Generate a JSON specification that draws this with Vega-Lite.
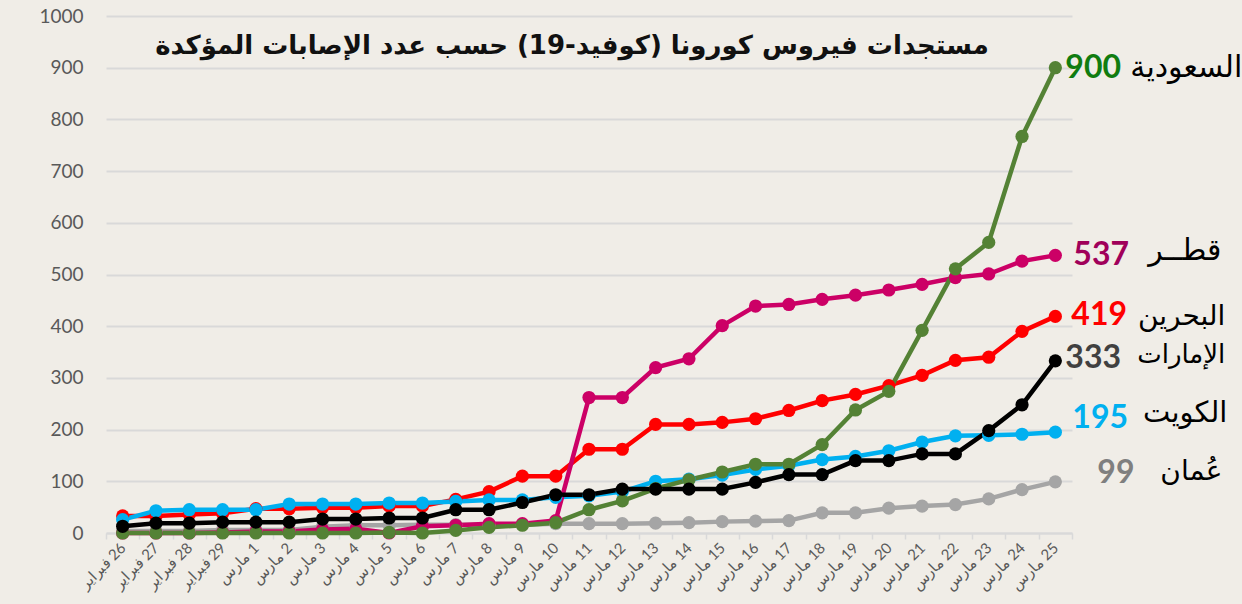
{
  "$schema": "https://vega.github.io/schema/vega-lite/v6.json",
  "autosize": {"type": "none"},
  "width": 966,
  "height": 517,
  "padding": {"left": 106, "top": 16, "right": 170, "bottom": 71},
  "background": "#F0EDE7",
  "config": {"view": {"stroke": null}},
  "title": {
    "text": "مستجدات فيروس كورونا (كوفيد-19) حسب عدد الإصابات المؤكدة",
    "frame": "group", "anchor": "middle", "orient": "top", "offset": 0, "dy": 65, "dx": -17,
    "baseline": "middle", "font": "DejaVu Sans", "fontSize": 26, "fontWeight": "bold", "color": "#111111"
  },
  "datasets": {
    "ends": [
      {"country": "السعودية", "name": "السعودية", "date": "\u200f25 مارس", "value": 900},
      {"country": "قطر", "name": "قطــر", "date": "\u200f25 مارس", "value": 537},
      {"country": "البحرين", "name": "البحرين", "date": "\u200f25 مارس", "value": 419},
      {"country": "الإمارات", "name": "الإمارات", "date": "\u200f25 مارس", "value": 333},
      {"country": "الكويت", "name": "الكويت", "date": "\u200f25 مارس", "value": 195},
      {"country": "عمان", "name": "عُمان", "date": "\u200f25 مارس", "value": 99}
    ],
    "series": [
      {"country": "عمان", "date": "\u200f26 فبراير", "value": 4},
      {"country": "عمان", "date": "\u200f27 فبراير", "value": 4},
      {"country": "عمان", "date": "\u200f28 فبراير", "value": 4},
      {"country": "عمان", "date": "\u200f29 فبراير", "value": 6},
      {"country": "عمان", "date": "\u200f1 مارس", "value": 6},
      {"country": "عمان", "date": "\u200f2 مارس", "value": 6},
      {"country": "عمان", "date": "\u200f3 مارس", "value": 12},
      {"country": "عمان", "date": "\u200f4 مارس", "value": 15},
      {"country": "عمان", "date": "\u200f5 مارس", "value": 15},
      {"country": "عمان", "date": "\u200f6 مارس", "value": 16},
      {"country": "عمان", "date": "\u200f7 مارس", "value": 16},
      {"country": "عمان", "date": "\u200f8 مارس", "value": 16},
      {"country": "عمان", "date": "\u200f9 مارس", "value": 16},
      {"country": "عمان", "date": "\u200f10 مارس", "value": 18},
      {"country": "عمان", "date": "\u200f11 مارس", "value": 18},
      {"country": "عمان", "date": "\u200f12 مارس", "value": 18},
      {"country": "عمان", "date": "\u200f13 مارس", "value": 19},
      {"country": "عمان", "date": "\u200f14 مارس", "value": 20},
      {"country": "عمان", "date": "\u200f15 مارس", "value": 22},
      {"country": "عمان", "date": "\u200f16 مارس", "value": 23},
      {"country": "عمان", "date": "\u200f17 مارس", "value": 24},
      {"country": "عمان", "date": "\u200f18 مارس", "value": 39},
      {"country": "عمان", "date": "\u200f19 مارس", "value": 39},
      {"country": "عمان", "date": "\u200f20 مارس", "value": 48},
      {"country": "عمان", "date": "\u200f21 مارس", "value": 52},
      {"country": "عمان", "date": "\u200f22 مارس", "value": 55},
      {"country": "عمان", "date": "\u200f23 مارس", "value": 66},
      {"country": "عمان", "date": "\u200f24 مارس", "value": 84},
      {"country": "عمان", "date": "\u200f25 مارس", "value": 99},

      {"country": "البحرين", "date": "\u200f26 فبراير", "value": 33},
      {"country": "البحرين", "date": "\u200f27 فبراير", "value": 33},
      {"country": "البحرين", "date": "\u200f28 فبراير", "value": 36},
      {"country": "البحرين", "date": "\u200f29 فبراير", "value": 38},
      {"country": "البحرين", "date": "\u200f1 مارس", "value": 47},
      {"country": "البحرين", "date": "\u200f2 مارس", "value": 47},
      {"country": "البحرين", "date": "\u200f3 مارس", "value": 49},
      {"country": "البحرين", "date": "\u200f4 مارس", "value": 49},
      {"country": "البحرين", "date": "\u200f5 مارس", "value": 52},
      {"country": "البحرين", "date": "\u200f6 مارس", "value": 52},
      {"country": "البحرين", "date": "\u200f7 مارس", "value": 65},
      {"country": "البحرين", "date": "\u200f8 مارس", "value": 80},
      {"country": "البحرين", "date": "\u200f9 مارس", "value": 110},
      {"country": "البحرين", "date": "\u200f10 مارس", "value": 110},
      {"country": "البحرين", "date": "\u200f11 مارس", "value": 162},
      {"country": "البحرين", "date": "\u200f12 مارس", "value": 162},
      {"country": "البحرين", "date": "\u200f13 مارس", "value": 210},
      {"country": "البحرين", "date": "\u200f14 مارس", "value": 210},
      {"country": "البحرين", "date": "\u200f15 مارس", "value": 214},
      {"country": "البحرين", "date": "\u200f16 مارس", "value": 221},
      {"country": "البحرين", "date": "\u200f17 مارس", "value": 237},
      {"country": "البحرين", "date": "\u200f18 مارس", "value": 256},
      {"country": "البحرين", "date": "\u200f19 مارس", "value": 268},
      {"country": "البحرين", "date": "\u200f20 مارس", "value": 285},
      {"country": "البحرين", "date": "\u200f21 مارس", "value": 305},
      {"country": "البحرين", "date": "\u200f22 مارس", "value": 334},
      {"country": "البحرين", "date": "\u200f23 مارس", "value": 340},
      {"country": "البحرين", "date": "\u200f24 مارس", "value": 390},
      {"country": "البحرين", "date": "\u200f25 مارس", "value": 419},

      {"country": "الكويت", "date": "\u200f26 فبراير", "value": 26},
      {"country": "الكويت", "date": "\u200f27 فبراير", "value": 43},
      {"country": "الكويت", "date": "\u200f28 فبراير", "value": 45},
      {"country": "الكويت", "date": "\u200f29 فبراير", "value": 45},
      {"country": "الكويت", "date": "\u200f1 مارس", "value": 45},
      {"country": "الكويت", "date": "\u200f2 مارس", "value": 56},
      {"country": "الكويت", "date": "\u200f3 مارس", "value": 56},
      {"country": "الكويت", "date": "\u200f4 مارس", "value": 56},
      {"country": "الكويت", "date": "\u200f5 مارس", "value": 58},
      {"country": "الكويت", "date": "\u200f6 مارس", "value": 58},
      {"country": "الكويت", "date": "\u200f7 مارس", "value": 61},
      {"country": "الكويت", "date": "\u200f8 مارس", "value": 64},
      {"country": "الكويت", "date": "\u200f9 مارس", "value": 64},
      {"country": "الكويت", "date": "\u200f10 مارس", "value": 69},
      {"country": "الكويت", "date": "\u200f11 مارس", "value": 72},
      {"country": "الكويت", "date": "\u200f12 مارس", "value": 80},
      {"country": "الكويت", "date": "\u200f13 مارس", "value": 100},
      {"country": "الكويت", "date": "\u200f14 مارس", "value": 104},
      {"country": "الكويت", "date": "\u200f15 مارس", "value": 112},
      {"country": "الكويت", "date": "\u200f16 مارس", "value": 123},
      {"country": "الكويت", "date": "\u200f17 مارس", "value": 130},
      {"country": "الكويت", "date": "\u200f18 مارس", "value": 142},
      {"country": "الكويت", "date": "\u200f19 مارس", "value": 148},
      {"country": "الكويت", "date": "\u200f20 مارس", "value": 159},
      {"country": "الكويت", "date": "\u200f21 مارس", "value": 176},
      {"country": "الكويت", "date": "\u200f22 مارس", "value": 188},
      {"country": "الكويت", "date": "\u200f23 مارس", "value": 189},
      {"country": "الكويت", "date": "\u200f24 مارس", "value": 191},
      {"country": "الكويت", "date": "\u200f25 مارس", "value": 195},

      {"country": "قطر", "date": "\u200f26 فبراير", "value": 0},
      {"country": "قطر", "date": "\u200f27 فبراير", "value": 0},
      {"country": "قطر", "date": "\u200f28 فبراير", "value": 0},
      {"country": "قطر", "date": "\u200f29 فبراير", "value": 1},
      {"country": "قطر", "date": "\u200f1 مارس", "value": 3},
      {"country": "قطر", "date": "\u200f2 مارس", "value": 3},
      {"country": "قطر", "date": "\u200f3 مارس", "value": 7},
      {"country": "قطر", "date": "\u200f4 مارس", "value": 8},
      {"country": "قطر", "date": "\u200f5 مارس", "value": 0},
      {"country": "قطر", "date": "\u200f6 مارس", "value": 13},
      {"country": "قطر", "date": "\u200f7 مارس", "value": 15},
      {"country": "قطر", "date": "\u200f8 مارس", "value": 18},
      {"country": "قطر", "date": "\u200f9 مارس", "value": 18},
      {"country": "قطر", "date": "\u200f10 مارس", "value": 24},
      {"country": "قطر", "date": "\u200f11 مارس", "value": 262},
      {"country": "قطر", "date": "\u200f12 مارس", "value": 262},
      {"country": "قطر", "date": "\u200f13 مارس", "value": 320},
      {"country": "قطر", "date": "\u200f14 مارس", "value": 337},
      {"country": "قطر", "date": "\u200f15 مارس", "value": 401},
      {"country": "قطر", "date": "\u200f16 مارس", "value": 439},
      {"country": "قطر", "date": "\u200f17 مارس", "value": 442},
      {"country": "قطر", "date": "\u200f18 مارس", "value": 452},
      {"country": "قطر", "date": "\u200f19 مارس", "value": 460},
      {"country": "قطر", "date": "\u200f20 مارس", "value": 470},
      {"country": "قطر", "date": "\u200f21 مارس", "value": 481},
      {"country": "قطر", "date": "\u200f22 مارس", "value": 494},
      {"country": "قطر", "date": "\u200f23 مارس", "value": 501},
      {"country": "قطر", "date": "\u200f24 مارس", "value": 526},
      {"country": "قطر", "date": "\u200f25 مارس", "value": 537},

      {"country": "السعودية", "date": "\u200f26 فبراير", "value": 0},
      {"country": "السعودية", "date": "\u200f27 فبراير", "value": 0},
      {"country": "السعودية", "date": "\u200f28 فبراير", "value": 0},
      {"country": "السعودية", "date": "\u200f29 فبراير", "value": 0},
      {"country": "السعودية", "date": "\u200f1 مارس", "value": 0},
      {"country": "السعودية", "date": "\u200f2 مارس", "value": 0},
      {"country": "السعودية", "date": "\u200f3 مارس", "value": 0},
      {"country": "السعودية", "date": "\u200f4 مارس", "value": 0},
      {"country": "السعودية", "date": "\u200f5 مارس", "value": 1},
      {"country": "السعودية", "date": "\u200f6 مارس", "value": 0},
      {"country": "السعودية", "date": "\u200f7 مارس", "value": 5},
      {"country": "السعودية", "date": "\u200f8 مارس", "value": 11},
      {"country": "السعودية", "date": "\u200f9 مارس", "value": 15},
      {"country": "السعودية", "date": "\u200f10 مارس", "value": 20},
      {"country": "السعودية", "date": "\u200f11 مارس", "value": 45},
      {"country": "السعودية", "date": "\u200f12 مارس", "value": 62},
      {"country": "السعودية", "date": "\u200f13 مارس", "value": 86},
      {"country": "السعودية", "date": "\u200f14 مارس", "value": 103},
      {"country": "السعودية", "date": "\u200f15 مارس", "value": 118},
      {"country": "السعودية", "date": "\u200f16 مارس", "value": 133},
      {"country": "السعودية", "date": "\u200f17 مارس", "value": 133},
      {"country": "السعودية", "date": "\u200f18 مارس", "value": 171},
      {"country": "السعودية", "date": "\u200f19 مارس", "value": 238},
      {"country": "السعودية", "date": "\u200f20 مارس", "value": 274},
      {"country": "السعودية", "date": "\u200f21 مارس", "value": 392},
      {"country": "السعودية", "date": "\u200f22 مارس", "value": 511},
      {"country": "السعودية", "date": "\u200f23 مارس", "value": 562},
      {"country": "السعودية", "date": "\u200f24 مارس", "value": 767},
      {"country": "السعودية", "date": "\u200f25 مارس", "value": 900},

      {"country": "الإمارات", "date": "\u200f26 فبراير", "value": 13},
      {"country": "الإمارات", "date": "\u200f27 فبراير", "value": 19},
      {"country": "الإمارات", "date": "\u200f28 فبراير", "value": 19},
      {"country": "الإمارات", "date": "\u200f29 فبراير", "value": 21},
      {"country": "الإمارات", "date": "\u200f1 مارس", "value": 21},
      {"country": "الإمارات", "date": "\u200f2 مارس", "value": 21},
      {"country": "الإمارات", "date": "\u200f3 مارس", "value": 27},
      {"country": "الإمارات", "date": "\u200f4 مارس", "value": 27},
      {"country": "الإمارات", "date": "\u200f5 مارس", "value": 29},
      {"country": "الإمارات", "date": "\u200f6 مارس", "value": 29},
      {"country": "الإمارات", "date": "\u200f7 مارس", "value": 45},
      {"country": "الإمارات", "date": "\u200f8 مارس", "value": 45},
      {"country": "الإمارات", "date": "\u200f9 مارس", "value": 59},
      {"country": "الإمارات", "date": "\u200f10 مارس", "value": 74},
      {"country": "الإمارات", "date": "\u200f11 مارس", "value": 74},
      {"country": "الإمارات", "date": "\u200f12 مارس", "value": 85},
      {"country": "الإمارات", "date": "\u200f13 مارس", "value": 85},
      {"country": "الإمارات", "date": "\u200f14 مارس", "value": 85},
      {"country": "الإمارات", "date": "\u200f15 مارس", "value": 85},
      {"country": "الإمارات", "date": "\u200f16 مارس", "value": 98},
      {"country": "الإمارات", "date": "\u200f17 مارس", "value": 113},
      {"country": "الإمارات", "date": "\u200f18 مارس", "value": 113},
      {"country": "الإمارات", "date": "\u200f19 مارس", "value": 140},
      {"country": "الإمارات", "date": "\u200f20 مارس", "value": 140},
      {"country": "الإمارات", "date": "\u200f21 مارس", "value": 153},
      {"country": "الإمارات", "date": "\u200f22 مارس", "value": 153},
      {"country": "الإمارات", "date": "\u200f23 مارس", "value": 198},
      {"country": "الإمارات", "date": "\u200f24 مارس", "value": 248},
      {"country": "الإمارات", "date": "\u200f25 مارس", "value": 333}
    ]
  },
  "data": {"name": "series"},
  "encoding": {
    "x": {
      "field": "date", "type": "nominal", "sort": null,
      "scale": {"type": "band", "paddingInner": 0, "paddingOuter": 0},
      "axis": {
        "title": null, "labelAngle": -45, "labelAlign": "right", "labelBaseline": "middle",
        "labelFont": "Lato", "labelFontSize": 15, "labelColor": "#595959", "labelPadding": 6,
        "labelOverlap": false, "tickBand": "extent", "ticks": true, "tickSize": 6,
        "tickColor": "#D9D9D9", "tickWidth": 1.5, "domainColor": "#D9D9D9", "domainWidth": 2, "grid": false
      }
    },
    "y": {
      "field": "value", "type": "quantitative",
      "scale": {"domain": [0, 1000], "nice": false},
      "axis": {
        "title": null, "values": [0, 100, 200, 300, 400, 500, 600, 700, 800, 900, 1000], "format": "d",
        "labelFont": "Lato", "labelFontSize": 19, "labelColor": "#595959", "labelPadding": 23,
        "ticks": false, "domain": false, "grid": true, "gridColor": "#D9D9D9", "gridWidth": 2
      }
    }
  },
  "layer": [
    {
      "mark": {"type": "line", "strokeWidth": 4.5},
      "encoding": {
        "color": {
          "field": "country", "type": "nominal", "legend": null,
          "scale": {
            "domain": ["عمان", "البحرين", "الكويت", "قطر", "السعودية", "الإمارات"],
            "range": ["#A5A5A5", "#FF0000", "#00B0F0", "#CC0066", "#548235", "#000000"]
          }
        }
      }
    },
    {
      "mark": {"type": "point", "filled": true, "size": 175, "opacity": 1},
      "encoding": {
        "color": {"field": "country", "type": "nominal", "legend": null}
      }
    },
    {
      "data": {"name": "ends"}, "transform": [{"filter": "datum.country == 'السعودية'"}],
      "mark": {"type": "text", "align": "left", "baseline": "middle", "dx": 10, "dy": 0, "font": "Lato", "fontSize": 32, "fontWeight": "bold", "color": "#107C10"},
      "encoding": {"text": {"field": "value"}}
    },
    {
      "data": {"name": "ends"}, "transform": [{"filter": "datum.country == 'قطر'"}],
      "mark": {"type": "text", "align": "left", "baseline": "middle", "dx": 18, "dy": 0, "font": "Lato", "fontSize": 32, "fontWeight": "bold", "color": "#A0005A"},
      "encoding": {"text": {"field": "value"}}
    },
    {
      "data": {"name": "ends"}, "transform": [{"filter": "datum.country == 'البحرين'"}],
      "mark": {"type": "text", "align": "left", "baseline": "middle", "dx": 16, "dy": -1, "font": "Lato", "fontSize": 32, "fontWeight": "bold", "color": "#FF0000"},
      "encoding": {"text": {"field": "value"}}
    },
    {
      "data": {"name": "ends"}, "transform": [{"filter": "datum.country == 'الإمارات'"}],
      "mark": {"type": "text", "align": "left", "baseline": "middle", "dx": 10, "dy": -3, "font": "Lato", "fontSize": 32, "fontWeight": "bold", "color": "#404040"},
      "encoding": {"text": {"field": "value"}}
    },
    {
      "data": {"name": "ends"}, "transform": [{"filter": "datum.country == 'الكويت'"}],
      "mark": {"type": "text", "align": "left", "baseline": "middle", "dx": 17, "dy": -14, "font": "Lato", "fontSize": 32, "fontWeight": "bold", "color": "#00B0F0"},
      "encoding": {"text": {"field": "value"}}
    },
    {
      "data": {"name": "ends"}, "transform": [{"filter": "datum.country == 'عمان'"}],
      "mark": {"type": "text", "align": "left", "baseline": "middle", "dx": 42, "dy": -9, "font": "Lato", "fontSize": 32, "fontWeight": "bold", "color": "#7F7F7F"},
      "encoding": {"text": {"field": "value"}}
    },
    {
      "data": {"name": "ends"}, "transform": [{"filter": "datum.country == 'السعودية'"}],
      "mark": {"type": "text", "align": "right", "baseline": "middle", "dx": 187, "dy": 0, "font": "DejaVu Sans", "fontSize": 30, "color": "#000000"},
      "encoding": {"text": {"field": "name"}}
    },
    {
      "data": {"name": "ends"}, "transform": [{"filter": "datum.country == 'قطر'"}],
      "mark": {"type": "text", "align": "right", "baseline": "middle", "dx": 166, "dy": -4, "font": "DejaVu Sans", "fontSize": 30, "color": "#000000"},
      "encoding": {"text": {"field": "name"}}
    },
    {
      "data": {"name": "ends"}, "transform": [{"filter": "datum.country == 'البحرين'"}],
      "mark": {"type": "text", "align": "right", "baseline": "middle", "dx": 170, "dy": 1, "font": "DejaVu Sans", "fontSize": 28, "color": "#000000"},
      "encoding": {"text": {"field": "name"}}
    },
    {
      "data": {"name": "ends"}, "transform": [{"filter": "datum.country == 'الإمارات'"}],
      "mark": {"type": "text", "align": "right", "baseline": "middle", "dx": 170, "dy": -6, "font": "DejaVu Sans", "fontSize": 26, "color": "#000000"},
      "encoding": {"text": {"field": "name"}}
    },
    {
      "data": {"name": "ends"}, "transform": [{"filter": "datum.country == 'الكويت'"}],
      "mark": {"type": "text", "align": "right", "baseline": "middle", "dx": 172, "dy": -19, "font": "DejaVu Sans", "fontSize": 29, "color": "#000000"},
      "encoding": {"text": {"field": "name"}}
    },
    {
      "data": {"name": "ends"}, "transform": [{"filter": "datum.country == 'عمان'"}],
      "mark": {"type": "text", "align": "right", "baseline": "middle", "dx": 167, "dy": -10, "font": "DejaVu Sans", "fontSize": 28, "color": "#000000"},
      "encoding": {"text": {"field": "name"}}
    }
  ]
}
